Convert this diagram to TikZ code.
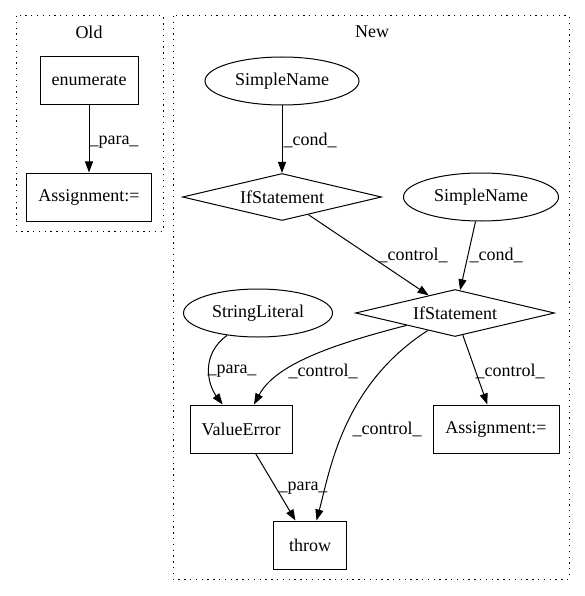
\documentclass[tikz,border=0pt]{standalone}
\usepackage{fontspec}
\setmainfont{Liberation Serif}
\usetikzlibrary{shapes.geometric,arrows.meta}
\begin{document}
\begin{tikzpicture}[x=1pt,y=-1pt,
  every node/.style={font=\fontsize{18pt}{20pt}\selectfont},
  box/.style={draw, line width=1pt, rectangle, inner sep=0pt},
  ell/.style={draw, line width=1pt, ellipse, inner sep=0pt},
  dia/.style={draw, line width=1pt, diamond, inner sep=0pt, aspect=4.2},
  cluster/.style={draw, line width=1pt, dash pattern=on 1.3pt off 4.5pt},
  edge/.style={draw, line width=1pt, -{Triangle[length=11pt,width=8pt]}},
  lbl/.style={inner sep=0pt}]
\useasboundingbox (0,0) rectangle (585,596);
% clusters
\draw[cluster] (16,16) rectangle (163,231);
\node[lbl] (oldlbl) at (89,32) {Old};
\draw[cluster] (173,16) rectangle (569,579);
\node[lbl] (newlbl) at (372,32) {New};
% Old
\node[box, minimum width=98pt, minimum height=48pt] (enum) at (89,81) {enumerate};
\node[box, minimum width=125pt, minimum height=48pt] (asg1) at (89,197) {Assignment:=};
\path[edge] (enum) -- (asg1);
\node[lbl] at (114,142) {\_para\_};
% New
\node[ell, minimum width=154pt, minimum height=48pt] (sn1) at (282,81) {SimpleName};
\node[dia, minimum width=199pt, minimum height=47pt] (ifs1) at (282,197) {IfStatement};
\node[ell, minimum width=155pt, minimum height=48pt] (sn2) at (481,197) {SimpleName};
\node[dia, minimum width=199pt, minimum height=47pt] (ifs2) at (455,313) {IfStatement};
\node[ell, minimum width=149pt, minimum height=48pt] (sl) at (258,313) {StringLiteral};
\node[box, minimum width=102pt, minimum height=48pt] (ve) at (241,429) {ValueError};
\node[box, minimum width=126pt, minimum height=48pt] (asg2) at (496,429) {Assignment:=};
\node[box, minimum width=73pt, minimum height=48pt] (throw) at (310,545) {throw};
% edges
\path[edge] (sn1) -- (ifs1);
\node[lbl] at (310,140) {\_cond\_};
\path[edge] (ifs1) -- (ifs2);
\node[lbl] at (413,255) {\_control\_};
\path[edge] (sn2) -- (ifs2);
\node[lbl] at (496,255) {\_cond\_};
\path[edge] (sl) .. controls (200,355) and (208,385) .. (ve);
\node[lbl] at (232,371) {\_para\_};
\path[edge] (ifs2) .. controls (330,345) and (275,365) .. (ve);
\node[lbl] at (323,371) {\_control\_};
\path[edge] (ifs2) -- (asg2);
\node[lbl] at (510,371) {\_control\_};
\path[edge] (ifs2) .. controls (343,385) and (330,470) .. (throw);
\node[lbl] at (387,429) {\_control\_};
\path[edge] (ve) -- (throw);
\node[lbl] at (303,488) {\_para\_};
\end{tikzpicture}
\end{document}
